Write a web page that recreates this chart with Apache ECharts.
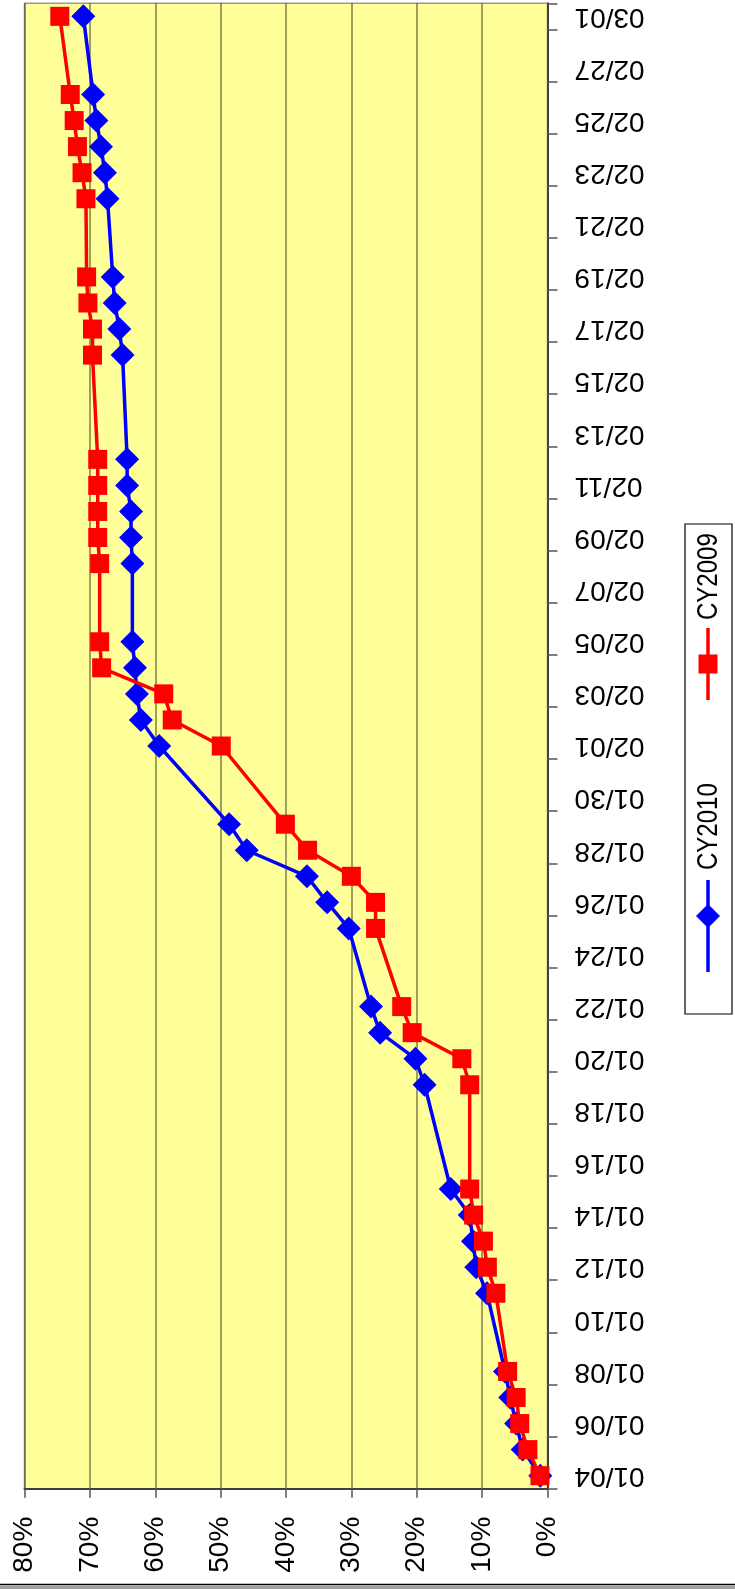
<!DOCTYPE html>
<html><head><meta charset="utf-8">
<script src="https://cdn.jsdelivr.net/npm/echarts@6/dist/echarts.min.js"></script>
<style>html,body{margin:0;padding:0;background:#fff}#c{width:735px;height:1589px}</style>
</head><body><div id="c"></div>
<script>
// Every calendar day on the date axis (category bands)
const days = ['01/04','01/05','01/06','01/07','01/08','01/09','01/10','01/11','01/12','01/13','01/14','01/15','01/16','01/17','01/18','01/19','01/20','01/21','01/22','01/23','01/24','01/25','01/26','01/27','01/28','01/29','01/30','01/31',
'02/01','02/02','02/03','02/04','02/05','02/06','02/07','02/08','02/09','02/10','02/11','02/12','02/13','02/14','02/15','02/16','02/17','02/18','02/19','02/20','02/21','02/22','02/23','02/24','02/25','02/26','02/27','02/28','03/01'];
// Dates that carry a point
const pointDates = ['01/04','01/05','01/06','01/07','01/08','01/11','01/12','01/13','01/14','01/15','01/19','01/20','01/21','01/22','01/25','01/26','01/27','01/28','01/29',
'02/01','02/02','02/03','02/04','02/05','02/08','02/09','02/10','02/11','02/12','02/16','02/17','02/18','02/19','02/22','02/23','02/24','02/25','02/26','03/01'];
const cy2010 = [1.1,3.8,4.8,5.7,6.5,9.25,10.9,11.4,11.9,14.8,18.8,20.2,25.6,27.0,30.4,33.7,36.8,46.0,48.7,
59.4,62.2,62.8,63.1,63.5,63.5,63.7,63.7,64.3,64.3,65.0,65.5,66.2,66.5,67.3,67.7,68.3,69.0,69.5,71.0];
const cy2009 = [1.15,3.0,4.25,4.8,6.1,7.9,9.2,9.8,11.3,11.9,11.9,13.1,20.7,22.3,26.3,26.3,30.0,36.7,40.1,
49.9,57.4,58.7,68.2,68.5,68.5,68.8,68.8,68.8,68.8,69.6,69.6,70.3,70.5,70.6,71.2,71.9,72.4,73.0,74.6];
const pctMin = 0, pctMax = 80, pctStep = 10;
const seriesNames = ['CY2010','CY2009'];

const FONT = "'Liberation Sans', Arial, sans-serif";
const chart = echarts.init(document.getElementById('c'), null, {renderer:'canvas'});

const toPairs = vals => vals.map((v,i)=>[v, pointDates[i]]);

chart.setOption({
  animation:false,
  backgroundColor:'#ffffff',
  grid:{left:24.5, right:187.5, top:3.3, bottom:100.3, show:true, backgroundColor:'#FFFF99', borderColor:'#9a9a9a', borderWidth:1.5, containLabel:false},
  xAxis:{
    type:'value', min:pctMin, max:pctMax, interval:pctStep, inverse:true, position:'bottom',
    axisLine:{show:true, onZero:false, lineStyle:{color:'#404040', width:2}},
    axisTick:{show:true, length:9, lineStyle:{color:'#555', width:1.5}},
    axisLabel:{formatter:'{value}%', rotate:90, fontSize:28, color:'#000', fontFamily:FONT, margin:28},
    splitLine:{show:true, lineStyle:{color:'rgba(40,40,20,0.6)', width:1.5}}
  },
  yAxis:{
    type:'category', data:days, position:'right', boundaryGap:true,
    axisLine:{show:true, lineStyle:{color:'#404040', width:2}},
    axisTick:{show:true, interval:1, length:10, lineStyle:{color:'#555', width:1.5}},
    axisLabel:{interval:1, rotate:180, fontSize:28, color:'#000', fontFamily:FONT, margin:27},
    splitLine:{show:false}
  },
  series:[
    {name:seriesNames[0], type:'line', data:toPairs(cy2010), symbol:'diamond', symbolSize:24, showAllSymbol:true,
     itemStyle:{color:'#0000FF'}, lineStyle:{color:'#0000FF', width:3.5}, z:2, emphasis:{disabled:true}},
    {name:seriesNames[1], type:'line', data:toPairs(cy2009), symbol:'rect', symbolSize:19, showAllSymbol:true,
     itemStyle:{color:'#FF0000'}, lineStyle:{color:'#FF0000', width:3.5}, z:3, emphasis:{disabled:true}}
  ],
  graphic:[
    {type:'rect', shape:{x:685, y:524, width:47, height:490}, style:{fill:'#fff', stroke:'#000', lineWidth:1.2}, z:10},
    {type:'text', x:709, y:620, rotation:Math.PI/2, scaleY:1.2, style:{text:seriesNames[1], fontSize:24, fontFamily:FONT, fill:'#000', align:'left', verticalAlign:'middle'}, z:12},
    {type:'line', shape:{x1:708, y1:628, x2:708, y2:700}, style:{stroke:'#FF0000', lineWidth:3.5}, z:11},
    {type:'rect', shape:{x:698.5, y:654.5, width:19, height:19}, style:{fill:'#FF0000'}, z:12},
    {type:'text', x:709, y:870, rotation:Math.PI/2, scaleY:1.2, style:{text:seriesNames[0], fontSize:24, fontFamily:FONT, fill:'#000', align:'left', verticalAlign:'middle'}, z:12},
    {type:'line', shape:{x1:708, y1:880, x2:708, y2:972}, style:{stroke:'#0000FF', lineWidth:3.5}, z:11},
    {type:'polygon', shape:{points:[[708,904],[720,916],[708,928],[696,916]]}, style:{fill:'#0000FF'}, z:12},
    {type:'line', shape:{x1:0, y1:1584.5, x2:735, y2:1584.5}, style:{stroke:'#000', lineWidth:1.5}, z:10},
    {type:'rect', shape:{x:0, y:1585.5, width:735, height:4}, style:{fill:'#a0a0a0'}, z:10}
  ]
});
</script>
</body></html>
